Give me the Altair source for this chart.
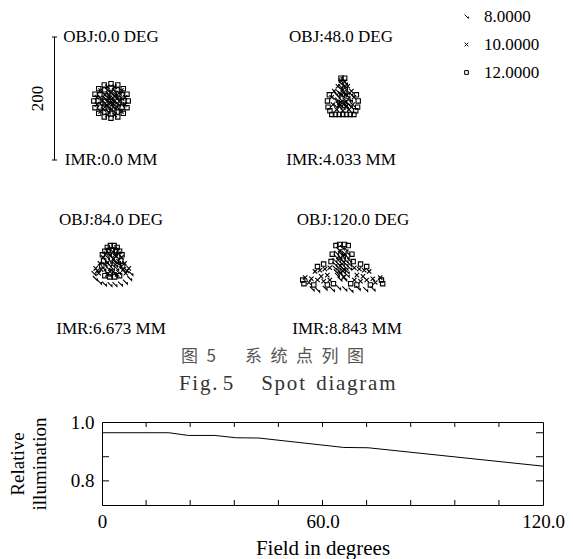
import altair as alt
import pandas as pd

SERIF = "Liberation Serif"
CJK = "Noto Sans CJK SC"

# ---------------- spot diagram values (micrometres, relative to spot centroid) ----------------
WAVELENGTHS = ["8.0000", "10.0000", "12.0000"]
OBJ_LABELS = ["OBJ:0.0 DEG", "OBJ:48.0 DEG", "OBJ:84.0 DEG", "OBJ:120.0 DEG"]
IMR_LABELS = ["IMR:0.0 MM", "IMR:4.033 MM", "IMR:6.673 MM", "IMR:8.843 MM"]
CENTROID_X = [0, 3, 2, -8]
CENTROID_Y = [-4, 2, 16, 7]
SCALE_BAR_UM = 200

F1_W8 = [(17, 5), (13, 13), (5, 17), (-5, 17), (-13, 13), (-17, 5), (-17, -5), (-13, -13), (-5, -17),
         (5, -17), (13, -13), (17, -5), (9, 4), (4, 9), (-4, 9), (-9, 4), (-9, -4), (-4, -9), (4, -9),
         (9, -4), (0, 0), (0, 4), (4, 0), (0, -4), (-4, 0), (7, 7), (-7, 7), (7, -7), (-7, -7), (12, 5),
         (-12, 5), (12, -5), (-12, -5), (5, 12), (-5, 12), (5, -12), (-5, -12)]
F1_W10 = [(23, 6), (17, 17), (6, 23), (-6, 23), (-17, 17), (-23, 6), (-23, -6), (-17, -17), (-6, -23),
          (6, -23), (17, -17), (23, -6), (14, 0), (10, 10), (0, 14), (-10, 10), (-14, 0), (-10, -10),
          (0, -14), (10, -10), (6, 0), (3, 5), (-3, 5), (-6, 0), (-3, -5), (3, -5)]
F1_W12 = [(28, 0), (26, 11), (20, 20), (11, 26), (0, 28), (-11, 26), (-20, 20), (-26, 11), (-28, 0),
          (-26, -11), (-20, -20), (-11, -26), (0, -28), (11, -26), (20, -20), (26, -11), (21, 0),
          (18, 10), (10, 18), (0, 21), (-10, 18), (-18, 10), (-21, 0), (-18, -10), (-10, -18), (0, -21),
          (10, -18), (18, -10)]

F2_W8 = [(0, 20), (-4, 14), (4, 14), (-7, 8), (0, 8), (7, 8), (-8, 2), (0, 2), (8, 2), (-9, -4), (-3, -4),
         (3, -4), (9, -4), (-8, -10), (0, -10), (8, -10), (-5, -16), (5, -16), (0, -16), (-4, 24), (4, 24),
         (0, 29), (-12, -4), (12, -4), (-12, 6), (12, 6), (-4, 18), (4, 18), (-4, 6), (4, 6), (-4, -12),
         (4, -12), (-12, -14), (12, -14)]
F2_W10 = [(-16, -12), (16, -12), (-18, 0), (18, 0), (-14, 10), (14, 10), (-8, 18), (8, 18), (-3, 27),
          (3, 25), (-10, -20), (10, -20), (0, -22), (-4, -8), (4, -8), (-4, 4), (4, 4), (0, 12), (-6, -14),
          (6, -14)]
F2_W12 = [(-18, -28), (-12, -28), (-6, -28), (0, -28), (6, -28), (12, -28), (18, -28), (-24, -16),
          (-25, -6), (-22, 4), (24, -16), (25, -6), (22, 4), (-21, -22), (21, -22), (-3, 31), (3, 31)]

F3_W8 = [(0, 22), (-5, 18), (5, 18), (-8, 12), (0, 12), (8, 12), (-10, 6), (-3, 6), (3, 6), (10, 6),
         (-12, 0), (-5, 0), (0, 0), (5, 0), (12, 0), (-14, -6), (-7, -6), (0, -6), (7, -6), (14, -6),
         (-10, -12), (-3, -12), (3, -12), (10, -12), (-5, -16), (5, -16), (-30, -14), (-28, -22),
         (-21, -28), (-13, -31), (-4, -32), (4, -32), (13, -31), (21, -28), (28, -22), (30, -14)]
F3_W10 = [(-18, -8), (18, -8), (-24, -10), (24, -10), (-20, 2), (20, 2), (-15, 12), (15, 12), (-10, 18),
          (10, 18), (-22, -14), (22, -14), (-27, -6), (27, -6), (-8, -16), (8, -16), (-4, 15), (4, 15),
          (-8, 3), (8, 3), (-2, -9), (2, 9)]
F3_W12 = [(-8, 28), (-3, 31), (3, 31), (8, 28), (-12, 22), (-6, 23), (0, 23), (6, 23), (12, 22),
          (-16, 16), (16, 16), (-14, 6), (14, 6), (-17, -2), (17, -2), (-4, -20), (4, -20), (-12, -18),
          (12, -18)]

F4_W8 = [(0, 37), (-6, 34), (6, 34), (-9, 28), (-3, 28), (3, 28), (9, 28), (-10, 22), (-4, 22), (2, 22),
         (8, 22), (-12, 16), (-6, 16), (0, 16), (6, 16), (12, 16), (-12, 10), (-6, 10), (0, 10), (6, 10),
         (12, 10), (-12, 4), (-6, 4), (0, 4), (6, 4), (12, 4), (-10, -2), (-4, -2), (2, -2), (8, -2),
         (-8, -8), (0, -8), (8, -8), (-4, -14), (4, -14), (-49, -30), (-40, -32), (-28, -29), (-16, -31),
         (-6, -28), (4, -30), (14, -32), (26, -29), (38, -31), (50, -30)]
F4_W10 = [(-44, -2), (-36, 0), (-28, 2), (-20, 4), (20, 4), (28, 2), (36, 0), (44, -2), (-60, -12),
          (-50, -14), (-40, -16), (-30, -18), (-20, -16), (20, -16), (30, -18), (40, -16), (50, -14),
          (62, -12), (-54, -20), (54, -20), (-24, -8), (24, -8), (-34, -10), (34, -10), (-3, 31), (3, 25),
          (-3, 19), (3, 13), (-3, 7), (3, 1), (-3, -5), (3, -11)]
F4_W12 = [(-64, -16), (-62, -22), (64, -16), (66, -22), (-40, 6), (40, 6), (-30, 10), (30, 10), (-18, 14),
          (18, 14), (-16, 26), (16, 26), (-10, 40), (10, 40), (-4, 42), (4, 42), (-46, -24), (46, -24),
          (-14, -22), (14, -22), (-24, -24), (24, -24)]

SPOTS = [[F1_W8, F1_W10, F1_W12], [F2_W8, F2_W10, F2_W12],
         [F3_W8, F3_W10, F3_W12], [F4_W8, F4_W10, F4_W12]]

# ---------------- relative illumination values ----------------
FIELD_DEG = [0, 18.2, 23.5, 30.7, 36.4, 42.7, 65.8, 72.4, 120]
REL_ILLUM = [0.9635, 0.9635, 0.9543, 0.9543, 0.9465, 0.9455, 0.9135, 0.9125, 0.850]
X_TICKS = [12, 24, 36, 48, 60, 72, 84, 96, 108]
Y_TICKS = [0.8, 0.882, 0.9635]
Y_MIN, Y_MAX = 0.718, 1.0

# ---------------- build tables ----------------
rows = []
for fi, per_wl in enumerate(SPOTS):
    for wi, pts in enumerate(per_wl):
        for (x, y) in pts:
            rows.append({"field": fi, "wl": WAVELENGTHS[wi],
                         "x": x + CENTROID_X[fi], "y": y + CENTROID_Y[fi]})
spots = pd.DataFrame(rows)

SHAPES = ["M-1,-1L1,1L1,0", "M-1,-1L1,1M-1,1L1,-1", "square"]
PX_PER_UM = 123 / SCALE_BAR_UM
PLOT_W, PLOT_H = 441, 83

legend = alt.Legend(title=None, orient="none", legendX=452, legendY=-29,
                    labelFont=SERIF, labelFontSize=17, labelColor="black",
                    symbolSize=14, symbolStrokeColor="black", symbolStrokeWidth=1,
                    rowPadding=10, labelOffset=9)


def blank(w, h):
    return alt.Chart(pd.DataFrame({"a": [0]})).mark_rule(opacity=0).encode(
        x=alt.value(0), y=alt.value(0), y2=alt.value(1)).properties(width=w, height=h)


def cell(fi, w, h, dx_obj=0, dx_imr=0, bar=False):
    d = spots[spots.field == fi]
    xs = alt.Scale(domain=[-w / 2 / PX_PER_UM, w / 2 / PX_PER_UM])
    ys = alt.Scale(domain=[-h / 2 / PX_PER_UM, h / 2 / PX_PER_UM])
    pts = alt.Chart(d).mark_point(filled=False, size=19, strokeWidth=1.1, color="black", opacity=1).encode(
        x=alt.X("x:Q", scale=xs, axis=None),
        y=alt.Y("y:Q", scale=ys, axis=None),
        shape=alt.Shape("wl:N", scale=alt.Scale(domain=WAVELENGTHS, range=SHAPES), legend=legend),
    )
    lab = pd.DataFrame({"obj": [OBJ_LABELS[fi]], "imr": [IMR_LABELS[fi]]})
    obj = alt.Chart(lab).mark_text(font=SERIF, fontSize=17, baseline="middle", color="black").encode(
        text="obj:N", x=alt.value(w / 2 + dx_obj), y=alt.value(0))
    imr = alt.Chart(lab).mark_text(font=SERIF, fontSize=17, baseline="middle", color="black").encode(
        text="imr:N", x=alt.value(w / 2 + dx_imr), y=alt.value(h))
    layers = [pts, obj, imr]
    if bar:
        bdf = pd.DataFrame({"y": [-SCALE_BAR_UM / 2], "y2": [SCALE_BAR_UM / 2], "lab": [str(SCALE_BAR_UM)]})
        edf = pd.DataFrame({"y": [-SCALE_BAR_UM / 2, SCALE_BAR_UM / 2]})
        layers.append(alt.Chart(bdf).mark_rule(color="black", strokeWidth=1).encode(
            x=alt.value(43.5), y=alt.Y("y:Q", scale=ys, axis=None), y2="y2:Q"))
        layers.append(alt.Chart(edf).mark_rule(color="black", strokeWidth=1).encode(
            x=alt.value(41), x2=alt.value(46), y=alt.Y("y:Q", scale=ys, axis=None)))
        layers.append(alt.Chart(bdf).mark_text(font=SERIF, fontSize=17, angle=270, baseline="middle",
                                               color="black").encode(
            text="lab:N", x=alt.value(27), y=alt.value(h / 2)))
    return alt.layer(*layers).properties(width=w, height=h)


row1 = alt.hconcat(cell(0, 200, 123, bar=True), cell(1, 200, 123), spacing=30)
row2 = alt.hconcat(cell(2, 200, 109), cell(3, 200, 109, dx_obj=6), spacing=36)
spot_block = alt.hconcat(blank(5, 20), alt.vconcat(row1, row2, spacing=43), spacing=0)

# ---------------- relative illumination chart ----------------
line_df = pd.DataFrame({"deg": FIELD_DEG, "ri": REL_ILLUM})
xsc = alt.Scale(domain=[0, 120], nice=False, zero=False)
ysc = alt.Scale(domain=[Y_MIN, Y_MAX], nice=False, zero=False)
tl_y = 5 * (Y_MAX - Y_MIN) / PLOT_H
tl_x = 7 * 120 / PLOT_W

line = alt.Chart(line_df).mark_line(color="black", strokeWidth=1).encode(
    x=alt.X("deg:Q", scale=xsc, axis=alt.Axis(
        values=[0, 60, 120], labelExpr="datum.value == 0 ? '0' : format(datum.value, '.1f')",
        title="Field in degrees", ticks=False, domain=False, grid=False, labelFlush=False,
        labelFont=SERIF, labelFontSize=19, labelColor="black", labelPadding=7,
        titleFont=SERIF, titleFontSize=21, titleFontWeight="normal", titleColor="black", titlePadding=6)),
    y=alt.Y("ri:Q", scale=ysc, axis=alt.Axis(
        values=[0.8, 1.0], format=".1f", title=["Relative", "illumination"], ticks=False, domain=False,
        grid=False, labelFont=SERIF, labelFontSize=19, labelColor="black", labelPadding=8,
        titleFont=SERIF, titleFontSize=19, titleFontWeight="normal", titleColor="black",
        titlePadding=21, titleLineHeight=22)),
)

xt = pd.DataFrame({"deg": X_TICKS})
xt["b0"], xt["b1"], xt["t0"], xt["t1"] = Y_MIN, Y_MIN + tl_y, Y_MAX, Y_MAX - tl_y
yt = pd.DataFrame({"ri": Y_TICKS})
yt["l0"], yt["l1"], yt["r0"], yt["r1"] = 0, tl_x, 120 - tl_x, 120

tick_b = alt.Chart(xt).mark_rule(color="black", strokeWidth=1).encode(
    x=alt.X("deg:Q", scale=xsc), y=alt.Y("b0:Q", scale=ysc), y2="b1:Q")
tick_t = alt.Chart(xt).mark_rule(color="black", strokeWidth=1).encode(
    x=alt.X("deg:Q", scale=xsc), y=alt.Y("t0:Q", scale=ysc), y2="t1:Q")
tick_l = alt.Chart(yt[yt.ri < 0.9]).mark_rule(color="black", strokeWidth=1).encode(
    y=alt.Y("ri:Q", scale=ysc), x=alt.X("l0:Q", scale=xsc), x2="l1:Q")
tick_r = alt.Chart(yt).mark_rule(color="black", strokeWidth=1).encode(
    y=alt.Y("ri:Q", scale=ysc), x=alt.X("r0:Q", scale=xsc), x2="r1:Q")

HS, TS, ES, ZW = "\u200a", "\u2009", "\u2002", "\u200c"
caption_cn = "图" + ES + "5" + "\u3000" + ES + TS + ES.join("系统点列图")
caption_en = (ZW + "\u2003" + TS + TS + HS.join("Fig.") + " " + "5" + "\u2003 " + HS + HS.join("Spot")
              + " " + TS + HS + HS.join("diagram"))

illum = alt.layer(line, tick_b, tick_t, tick_l, tick_r).properties(
    width=PLOT_W, height=PLOT_H,
    view=alt.ViewBackground(stroke="black", strokeWidth=1),
    title=alt.TitleParams(
        text=caption_cn, subtitle=caption_en,
        font=CJK, fontSize=17, fontWeight="normal", color="#555",
        subtitleFont=SERIF, subtitleFontSize=21, subtitleColor="#333", subtitlePadding=7,
        anchor="middle", dx=-50, offset=18),
)

bottom_row = alt.hconcat(blank(1, PLOT_H), illum, spacing=0)

chart = alt.vconcat(spot_block, bottom_row, spacing=10).properties(
    padding={"left": -2, "top": 0, "right": 0, "bottom": 0}, background="white"
).configure_view(stroke=None)

chart.save("out.html", embed_options={"renderer": "svg", "actions": False})
